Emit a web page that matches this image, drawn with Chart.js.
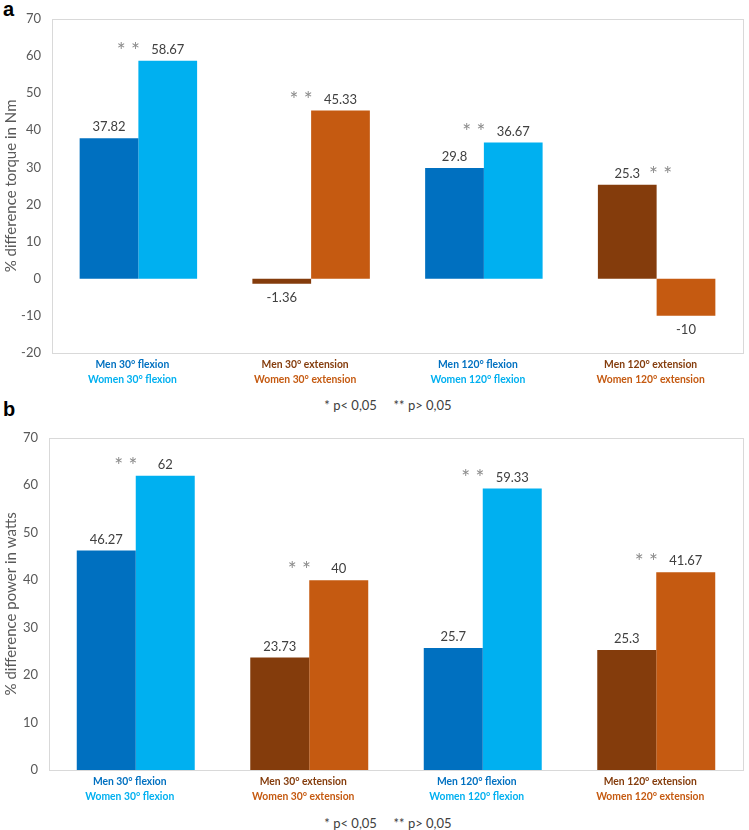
<!DOCTYPE html>
<html>
<head>
<meta charset="utf-8">
<script src="https://cdn.jsdelivr.net/npm/chart.js@4"></script>
<style>
    body { margin: 0; background: #fff; }
    #wrap { position: relative; width: 749px; height: 830px; overflow: hidden; }
    canvas { position: absolute; left: 0; }
    .panel { position: absolute; left: 3px; font: bold 20px "Liberation Sans", Arial, sans-serif; color: #000; }
    .note { position: absolute; left: 0; width: 776px; text-align: center; font: 13px Lato, sans-serif; color: #404040; white-space: pre; }
</style>
</head>
<body>
<div id="wrap">
    <div class="panel" style="top:-2px;">a</div>
    <canvas id="chartA" width="749" height="392" style="top:0;"></canvas>
    <div class="note" style="top:397px;">* p&lt; 0,05     ** p&gt; 0,05</div>

    <div class="panel" style="top:398px;">b</div>
    <canvas id="chartB" width="749" height="390" style="top:419px;"></canvas>
    <div class="note" style="top:815px;">* p&lt; 0,05     ** p&gt; 0,05</div>
</div>
<script>
// Category labels (two lines, one per sex)
const menLabels = ['Men 30° flexion', 'Men 30° extension', 'Men 120° flexion', 'Men 120° extension'];
const womenLabels = ['Women 30° flexion', 'Women 30° extension', 'Women 120° flexion', 'Women 120° extension'];

// Panel a: % difference torque in Nm
const torqueMen = [37.82, -1.36, 29.8, 25.3];
const torqueWomen = [58.67, 45.33, 36.67, -10];
const torqueSig = ['**', '**', '**', '**'];

// Panel b: % difference power in watts
const powerMen = [46.27, 23.73, 25.7, 25.3];
const powerWomen = [62, 40, 59.33, 41.67];
const powerSig = ['**', '**', '**', '**'];

// Colours per category
const menColors = ['#0070C0', '#843C0C', '#0070C0', '#843C0C'];
const womenColors = ['#00B0F0', '#C55A11', '#00B0F0', '#C55A11'];

const tickFont = { family: 'Lato, sans-serif', size: 13 };
const catFont = 'bold 12px Lato, sans-serif';

// Light grey frame round the plot area
const framePlugin = {
    id: 'frame',
    beforeDatasetsDraw(chart) {
        const { ctx, chartArea: a } = chart;
        ctx.save();
        ctx.strokeStyle = '#D9D9D9';
        ctx.lineWidth = 1;
        ctx.strokeRect(Math.round(a.left) + 0.5, Math.round(a.top) + 0.5, Math.round(a.right - a.left), Math.round(a.bottom - a.top));
        ctx.restore();
    }
};

// Two coloured lines under each category (men / women), squeezed like a narrow face
const catLabelsPlugin = {
    id: 'catLabels',
    afterDraw(chart) {
        const ctx = chart.ctx;
        const xs = chart.scales.x;
        const bottom = chart.chartArea.bottom;
        const drawNarrow = (text, x, y, color) => {
            ctx.save();
            ctx.translate(x, y);
            ctx.scale(0.86, 1);
            ctx.fillStyle = color;
            ctx.fillText(text, 0, 0);
            ctx.restore();
        };
        ctx.save();
        ctx.font = catFont;
        ctx.textAlign = 'center';
        ctx.textBaseline = 'middle';
        menLabels.forEach((lab, i) => {
            const x = xs.getPixelForTick(i) - 6;
            drawNarrow(lab, x, bottom + 11, menColors[i]);
            drawNarrow(womenLabels[i], x, bottom + 26, womenColors[i]);
        });
        ctx.restore();
    }
};

// Value labels and significance marks
const labelsPlugin = {
    id: 'valueLabels',
    afterDatasetsDraw(chart, args, opts) {
        const ctx = chart.ctx;
        ctx.save();
        ctx.font = '13px Lato, sans-serif';
        ctx.fillStyle = '#404040';
        ctx.textAlign = 'center';
        ctx.textBaseline = 'middle';
        const labelY = [];
        chart.data.datasets.forEach((ds, di) => {
            const meta = chart.getDatasetMeta(di);
            meta.data.forEach((bar, i) => {
                const v = ds.data[i];
                const y = v >= 0 ? bar.y - 11 : bar.y + 14;
                ctx.fillText(String(v), bar.x, y);
                if (v >= 0) labelY[i] = Math.min(labelY[i] ?? Infinity, y);
            });
        });
        // asterisks sit at the left edge of the women bar, above the highest label
        const womenMeta = chart.getDatasetMeta(1);
        const women = chart.data.datasets[1].data;
        const men = chart.data.datasets[0].data;
        ctx.font = '21px Lato, sans-serif';
        ctx.fillStyle = '#8C8C8C';
        opts.sig.forEach((s, i) => {
            const bar = womenMeta.data[i];
            const left = bar.x - bar.width / 2;
            const x = women[i] >= men[i] ? left - 10 : left + 4;
            ctx.fillText(s.split('').join(' '), x, labelY[i] + 1);
        });
        ctx.restore();
    }
};

function makePanel(id, men, women, sig, yMin, yTitle, axisWidth) {
    return new Chart(document.getElementById(id), {
        type: 'bar',
        data: {
            labels: menLabels,
            datasets: [
                { label: 'Men', data: men, backgroundColor: menColors, borderWidth: 0 },
                { label: 'Women', data: women, backgroundColor: womenColors, borderWidth: 0 }
            ]
        },
        options: {
            responsive: false,
            animation: false,
            events: [],
            categoryPercentage: 0.68,
            barPercentage: 1,
            layout: { padding: { top: 10, right: 6, bottom: 0, left: 0 } },
            plugins: {
                legend: { display: false },
                tooltip: { enabled: false },
                valueLabels: { sig: sig }
            },
            scales: {
                x: {
                    grid: { display: false },
                    border: { display: false },
                    ticks: { display: false },
                    afterFit: (s) => { s.height = 39; }
                },
                y: {
                    min: yMin,
                    max: 70,
                    grid: { display: false, drawTicks: false },
                    border: { display: false },
                    ticks: { stepSize: 10, font: tickFont, color: '#595959', padding: 11 },
                    title: {
                        display: true,
                        text: yTitle,
                        font: { family: 'Lato, sans-serif', size: 15 },
                        color: '#595959',
                        padding: { top: 2, bottom: 0 }
                    },
                    afterFit: (s) => { s.width = axisWidth; }
                }
            }
        },
        plugins: [framePlugin, labelsPlugin, catLabelsPlugin]
    });
}

makePanel('chartA', torqueMen, torqueWomen, torqueSig, -20, '% difference torque in Nm', 52);
makePanel('chartB', powerMen, powerWomen, powerSig, 0, '% difference power in watts', 49);
</script>
</body>
</html>
